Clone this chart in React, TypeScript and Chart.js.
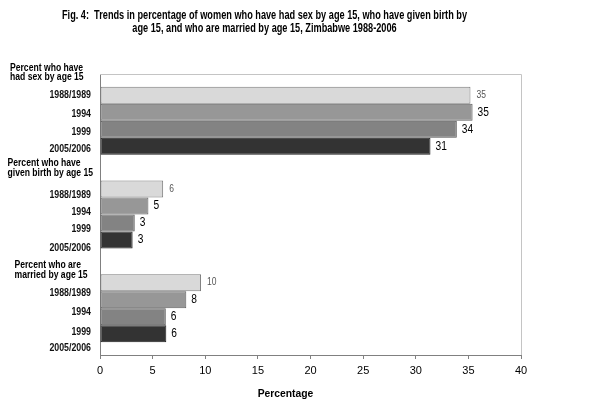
import React, { useEffect, useRef } from "react";
import { Chart, registerables } from "chart.js";

Chart.register(...registerables);

const titleLines = [
  "Fig. 4:  Trends in percentage of women who have had sex by age 15, who have given birth by",
  "age 15, and who are married by age 15, Zimbabwe 1988-2006",
];
const groupHeaders = [
  ["Percent who have", "had sex by age 15"],
  ["Percent who have", "given birth by age 15"],
  ["Percent who are", "married by age 15"],
];
const years = ["1988/1989", "1994", "1999", "2005/2006"];
// values per survey year across the three indicators (sex, birth, married)
const v1988 = [35.2, 6.0, 9.6];
const v1994 = [35.4, 4.6, 8.2];
const v1999 = [33.9, 3.3, 6.25];
const v2005 = [31.4, 3.1, 6.3];
const xTicks = [0, 5, 10, 15, 20, 25, 30, 35, 40];
const axisTitle = "Percentage";

const FONT = "'Liberation Sans', Arial, Helvetica, sans-serif";

function txt(
  ctx: CanvasRenderingContext2D,
  s: string,
  x: number,
  y: number,
  font: string,
  color: string,
  align: CanvasTextAlign,
  hscale = 1
) {
  ctx.save();
  ctx.font = font;
  ctx.fillStyle = color;
  ctx.textAlign = align;
  ctx.textBaseline = "middle";
  const w = ctx.measureText(s).width * hscale;
  ctx.fillText(s, x, y, w);
  ctx.restore();
}

const decorPlugin = {
  id: "decor",
  beforeDatasetsDraw(chart: any) {
    const { ctx, chartArea: ca } = chart;
    ctx.save();
    ctx.strokeStyle = "#c4c4c4";
    ctx.lineWidth = 1;
    ctx.beginPath();
    ctx.moveTo(ca.left, ca.top + 0.5);
    ctx.lineTo(ca.right + 0.5, ca.top + 0.5);
    ctx.lineTo(ca.right + 0.5, ca.bottom);
    ctx.stroke();
    ctx.restore();
  },
  afterDatasetsDraw(chart: any) {
    const { ctx } = chart;
    const y = chart.scales.y;
    // value labels
    chart.data.datasets.forEach((ds: any, di: number) => {
      const meta = chart.getDatasetMeta(di);
      meta.data.forEach((el: any, i: number) => {
        const v = Math.round(ds.data[i]);
        if (di === 0) {
          txt(ctx, String(v), el.x + 6, el.y, `10px ${FONT}`, "#555", "left", 0.85);
        } else {
          txt(ctx, String(v), el.x + 5, el.y, `12px ${FONT}`, "#000", "left", 0.85);
        }
      });
    });
    // category labels
    const headerX = [10, 7.5, 14.5];
    const headerOff = [
      [-52.5, -43.1],
      [-51.2, -41.2],
      [-42.5, -33.2],
    ];
    const yearOff = [
      [-25.1, -6.5, 11.5, 28.9],
      [-18.8, -1.8, 14.8, 34.2],
      [-14.9, 4.5, 23.8, 40.5],
    ];
    groupHeaders.forEach((lines, gi) => {
      const c = y.getPixelForValue(gi);
      lines.forEach((s, li) => {
        txt(ctx, s, headerX[gi], c + headerOff[gi][li], `bold 10px ${FONT}`, "#000", "left", 0.86);
      });
      years.forEach((s, yi) => {
        txt(ctx, s, 91, c + yearOff[gi][yi], `bold 10px ${FONT}`, "#111", "right", 0.88);
      });
    });
    // title
    txt(ctx, titleLines[0], 264.5, 15.7, `bold 12px ${FONT}`, "#000", "center", 0.765);
    txt(ctx, titleLines[1], 264.5, 29, `bold 12px ${FONT}`, "#000", "center", 0.765);
    // axis title
    txt(ctx, axisTitle, 285.5, 394, `bold 11px ${FONT}`, "#000", "center", 0.94);
  },
};

export default function App() {
  const ref = useRef<HTMLCanvasElement>(null);
  useEffect(() => {
    document.body.style.margin = "0";
    const canvas = ref.current!;
    const chart = new Chart(canvas, {
      type: "bar",
      data: {
        labels: groupHeaders.map((l) => l.join(" ")),
        datasets: [
          { label: years[0], data: v1988, backgroundColor: "#d9d9d9", borderColor: "#7a7a7a" },
          { label: years[1], data: v1994, backgroundColor: "#979797", borderColor: "#5e5e5e" },
          { label: years[2], data: v1999, backgroundColor: "#838383", borderColor: "#505050" },
          { label: years[3], data: v2005, backgroundColor: "#333333", borderColor: "#1e1e1e" },
        ].map((d) => ({
          ...d,
          borderWidth: 1,
          borderSkipped: false,
          categoryPercentage: 0.726,
          barPercentage: 1,
        })),
      },
      options: {
        indexAxis: "y",
        responsive: false,
        animation: false,
        layout: { padding: { top: 74, left: 100, right: 79, bottom: 0 } },
        plugins: {
          legend: { display: false },
          tooltip: { enabled: false },
          title: { display: false },
        },
        scales: {
          x: {
            min: 0,
            max: 40,
            afterFit: (s: any) => {
              s.height = 51;
            },
            afterBuildTicks: (s: any) => {
              s.ticks = xTicks.map((v) => ({ value: v }));
            },
            ticks: {
              font: { family: FONT, size: 11 },
              color: "#000",
              padding: 5,
              maxRotation: 0,
            },
            grid: {
              drawOnChartArea: false,
              drawTicks: true,
              tickLength: 4,
              color: "#808080",
            },
            border: { display: true, color: "#808080" },
          },
          y: {
            afterFit: (s: any) => {
              s.width = 0;
            },
            ticks: { display: false },
            grid: { drawOnChartArea: false, drawTicks: false },
            border: { display: true, color: "#808080" },
          },
        },
      },
      plugins: [decorPlugin],
    } as any);
    return () => chart.destroy();
  }, []);
  return (
    <div style={{ width: 600, height: 406, background: "#fff" }}>
      <canvas ref={ref} width={600} height={406} />
    </div>
  );
}
